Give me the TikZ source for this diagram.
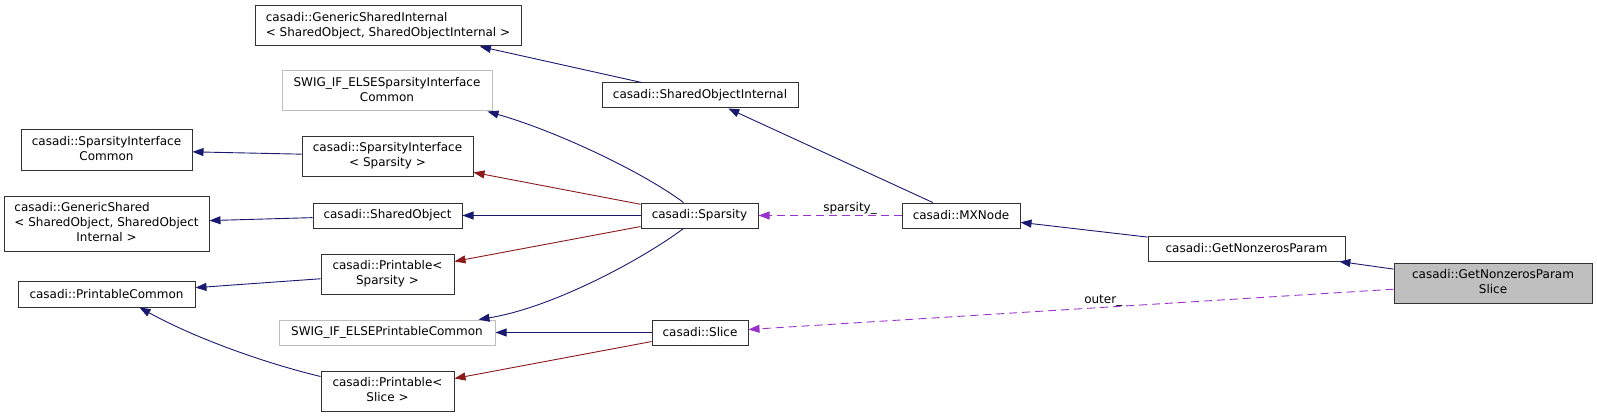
\documentclass[tikz,border=0pt]{standalone}
\usepackage{fontspec}
\setmainfont{DejaVu Sans}
\usetikzlibrary{arrows.meta,calc}

\definecolor{inhblue}{HTML}{191970}
\definecolor{tplred}{HTML}{8B1A1A}
\definecolor{usepurple}{HTML}{9A32CD}
\definecolor{nodegrey}{HTML}{BFBFBF}

% first line left, last line centred (doxygen style)
\newcommand{\boxlines}[2]{\begin{tabular}{@{}l@{}}#1\\\multicolumn{1}{@{}c@{}}{#2}\end{tabular}}

\tikzset{
  cls/.style={draw=black!80, line width=1pt, fill=white, inner sep=0pt, font=\fontsize{12}{15}\selectfont},
  ext/.style={cls, draw=nodegrey},
  cur/.style={cls, fill=nodegrey},
  inh/.style={inhblue, line width=0.9pt, -{Triangle[length=11pt,width=8pt]}},
  tpl/.style={inh, tplred},
  usage/.style={inh, usepurple, dash pattern=on 8pt off 5pt},
  edgelabel/.style={font=\fontsize{12}{15}\selectfont, text=black, inner sep=0.5pt, anchor=south}
}

\begin{document}
\begin{tikzpicture}[x=1pt, y=-1pt]
	\useasboundingbox (0,0) rectangle (1597,417);
	% left column
	\node[cls, minimum width=171pt, minimum height=40pt] (sic) at (106.5,150) {\boxlines{casadi::SparsityInterface}{Common}};
	\node[cls, minimum width=205pt, minimum height=55pt] (gs) at (106.5,223.5) {\begin{tabular}{@{}l@{}}casadi::GenericShared\\< SharedObject, SharedObject\\\multicolumn{1}{@{}c@{}}{Internal >}\end{tabular}};
	\node[cls, minimum width=177pt, minimum height=26pt] (pc) at (106.5,294) {casadi::PrintableCommon};
	% second column
	\node[cls, minimum width=266pt, minimum height=40pt] (gsi) at (388,26) {\boxlines{casadi::GenericSharedInternal}{< SharedObject, SharedObjectInternal >}};
	\node[ext, minimum width=210pt, minimum height=40pt] (swigsi) at (387,91) {\boxlines{SWIG\_IF\_ELSESparsityInterface}{Common}};
	\node[cls, minimum width=171pt, minimum height=40pt] (sis) at (387.5,156) {\boxlines{casadi::SparsityInterface}{< Sparsity >}};
	\node[cls, minimum width=149pt, minimum height=25pt] (so) at (387.5,215.5) {casadi::SharedObject};
	\node[cls, minimum width=133pt, minimum height=40pt] (ps) at (387.5,274) {\boxlines{casadi::Printable<}{Sparsity >}};
	\node[ext, minimum width=216pt, minimum height=25pt] (swigpc) at (387,332.5) {SWIG\_IF\_ELSEPrintableCommon};
	\node[cls, minimum width=133pt, minimum height=40pt] (psl) at (387.5,391) {\boxlines{casadi::Printable<}{Slice >}};
	% third column
	\node[cls, minimum width=196pt, minimum height=25pt] (soi) at (700,95.5) {casadi::SharedObjectInternal};
	\node[cls, minimum width=117pt, minimum height=25pt] (sp) at (699.5,215.5) {casadi::Sparsity};
	\node[cls, minimum width=96pt, minimum height=25pt] (sl) at (700,332.5) {casadi::Slice};
	% right part
	\node[cls, minimum width=118pt, minimum height=25pt] (mx) at (961,215.5) {casadi::MXNode};
	\node[cls, minimum width=197pt, minimum height=25pt] (gnp) at (1246.5,248.5) {casadi::GetNonzerosParam};
	\node[cur, minimum width=198pt, minimum height=40pt] (gnps) at (1493,283) {\boxlines{casadi::GetNonzerosParam}{Slice}};

	% inheritance
	\draw[inh] (soi) -- (gsi);
	\draw[inh] ($(sp.north)+(-16,0)$) .. controls +(-40,-30) and +(70,20) .. ($(swigsi.south east)+(-5,0)$);
	\draw[tpl] (sp) -- (sis);
	\draw[inh] (sis) -- (sic);
	\draw[inh] (sp) -- (so);
	\draw[inh] (so) -- (gs);
	\draw[tpl] (sp) -- (ps);
	\draw[inh] (ps) -- (pc);
	\draw[inh] ($(sp.south)+(-16,0)$) .. controls +(-40,30) and +(75,-12) .. ($(swigpc.north east)+(-17,0)$);
	\draw[inh] (sl) -- (swigpc);
	\draw[tpl] (sl) -- (psl);
	\draw[inh] ($(psl.north west)+(0,6)$) .. controls +(-50,-12) and +(60,33) .. ($(pc.south)+(33,0)$);
	\draw[inh] (mx) -- (soi);
	\draw[inh] (gnp) -- (mx);
	\draw[inh] (gnps) -- (gnp);
	% members
	\draw[usage] (mx) -- (sp) node[edgelabel, pos=0.36] {sparsity\_};
	\draw[usage] (gnps) -- (sl) node[edgelabel, pos=0.45] {outer\_};
\end{tikzpicture}
\end{document}
